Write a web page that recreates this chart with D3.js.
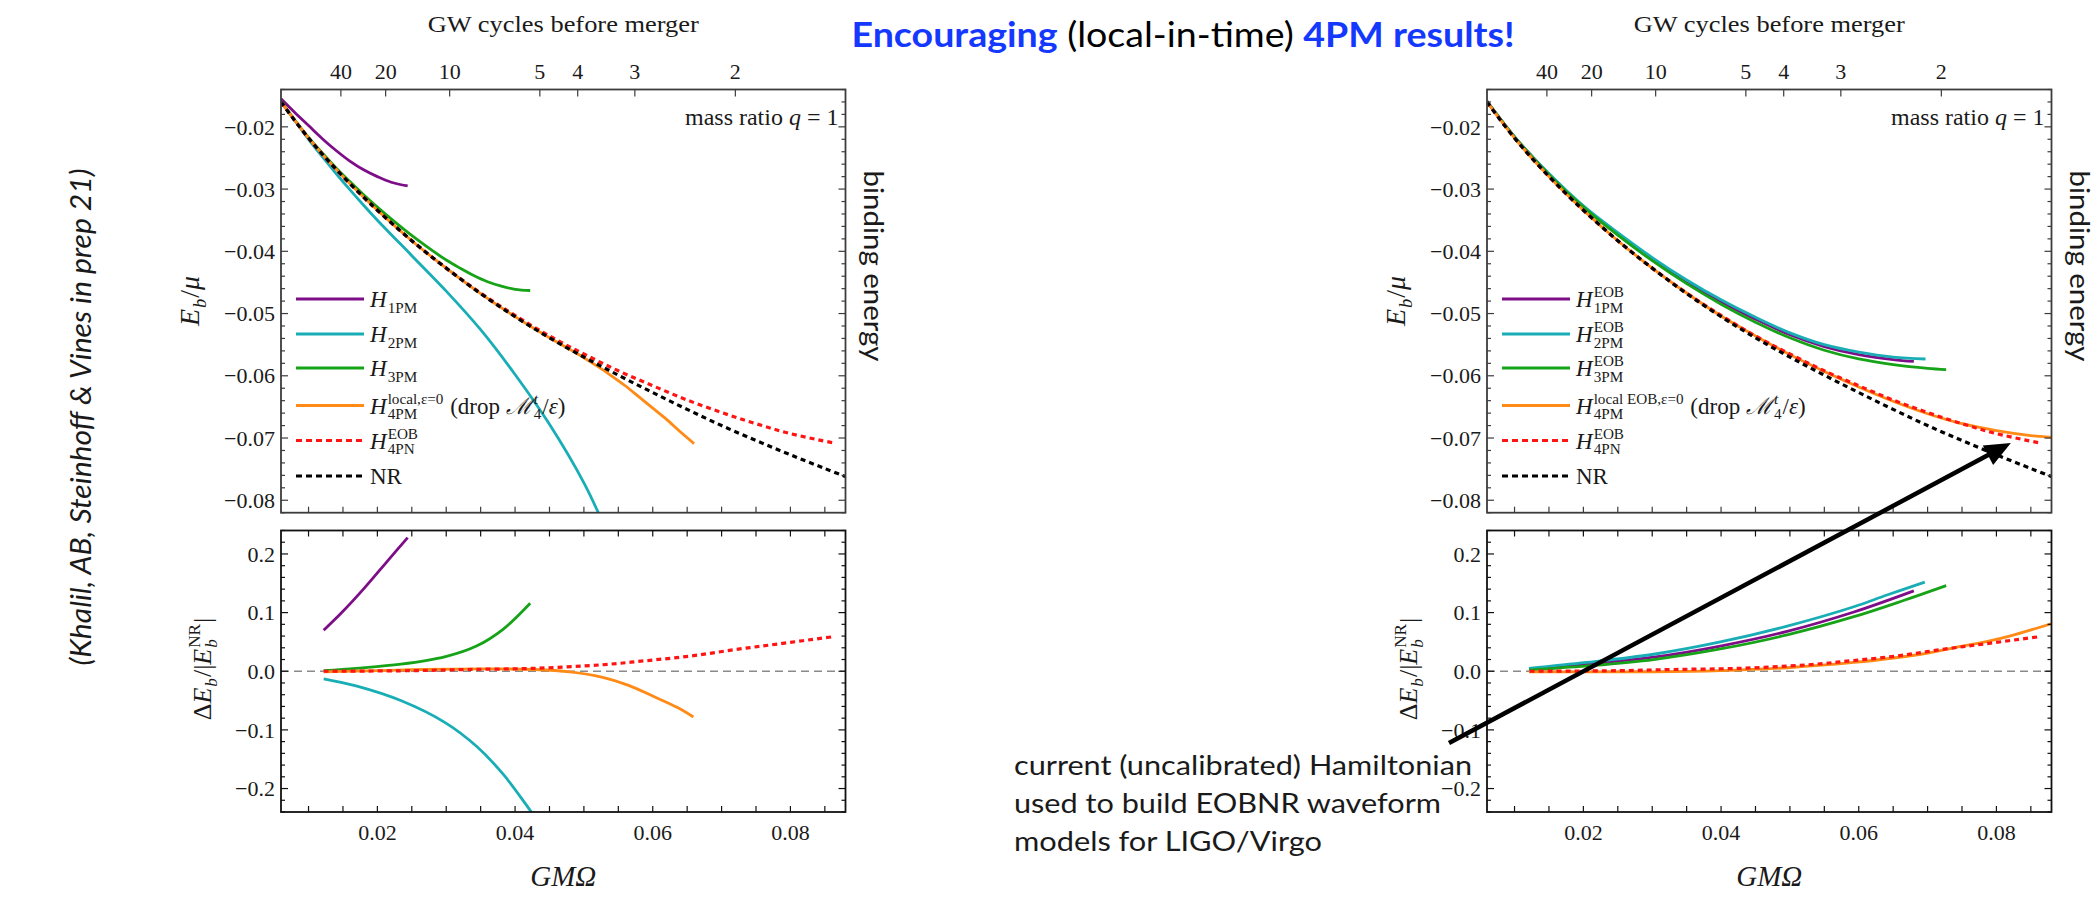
<!DOCTYPE html>
<html>
<head>
<meta charset="UTF-8">
<title>binding energy 4PM</title>
<script src="https://d3js.org/d3.v7.min.js" charset="utf-8"></script>
<style>
  body { margin: 0; background: #fff; }
  text { font-family: "Liberation Serif", "DejaVu Serif", serif; fill: #1a1a1a; white-space: pre; }
  .gill { font-family: Lato, "Open Sans", sans-serif; }
</style>
</head>
<body>
<svg class="chart"></svg>
<script>

var width = 2097, height = 915;
var xDomain = [0.006, 0.088];
var topDomain = [-0.0820, -0.0140];
var botDomain = [-0.24, 0.24];

// GW cycles axis on top
var cycleLabels = [40, 20, 10, 5, 4, 3, 2];
var cycleAt = [0.0147, 0.0212, 0.0305, 0.0436, 0.0491, 0.0574, 0.0720];
var xTickLabels = [0.02, 0.04, 0.06, 0.08];

// NR binding energy (both panels)
var nrX = [0.006,0.008,0.010,0.012,0.014,0.016,0.018,0.020,0.025,0.030,0.035,0.040,0.045,0.050,0.055,0.060,0.065,0.070,0.075,0.080,0.085,0.088];
var nrE = [-0.0160,-0.0190,-0.0218,-0.0244,-0.0268,-0.0291,-0.0313,-0.0334,-0.0383,-0.0427,-0.0468,-0.0505,-0.0539,-0.0570,-0.0599,-0.0627,-0.0654,-0.0680,-0.0704,-0.0727,-0.0749,-0.0762];

// left: PM hamiltonians
var h1pmX = [0.006,0.008,0.010,0.012,0.014,0.016,0.018,0.020,0.022,0.0244];
var h1pmE = [-0.0155,-0.0177,-0.0198,-0.0219,-0.0238,-0.0255,-0.0269,-0.0280,-0.0289,-0.0295];
var h2pmX = [0.006,0.008,0.010,0.012,0.014,0.016,0.018,0.020,0.025,0.030,0.035,0.040,0.045,0.050,0.0525];
var h2pmE = [-0.0160,-0.0190,-0.0220,-0.0248,-0.0275,-0.0301,-0.0326,-0.0350,-0.0407,-0.0464,-0.0526,-0.0598,-0.0678,-0.0772,-0.0830];
var h3pmX = [0.006,0.008,0.010,0.012,0.014,0.016,0.018,0.020,0.022,0.024,0.026,0.028,0.030,0.032,0.034,0.036,0.038,0.040,0.0422];
var h3pmE = [-0.0159,-0.0189,-0.0217,-0.0242,-0.0266,-0.0288,-0.0309,-0.0329,-0.0348,-0.0366,-0.0383,-0.0399,-0.0414,-0.0427,-0.0439,-0.0449,-0.0456,-0.0461,-0.0463];
var h4pmX = [0.006,0.010,0.015,0.020,0.025,0.030,0.035,0.040,0.045,0.048,0.050,0.052,0.054,0.056,0.058,0.060,0.062,0.064,0.066];
var h4pmE = [-0.0160,-0.0218,-0.0280,-0.0334,-0.0383,-0.0427,-0.0468,-0.0505,-0.0539,-0.0558,-0.0571,-0.0585,-0.0600,-0.0616,-0.0634,-0.0652,-0.0670,-0.0690,-0.0709];
var eob4pnX = [0.006,0.010,0.015,0.020,0.025,0.030,0.035,0.040,0.045,0.050,0.055,0.060,0.065,0.070,0.075,0.080,0.0863];
var eob4pnE = [-0.0160,-0.0218,-0.0280,-0.0334,-0.0383,-0.0427,-0.0467,-0.0503,-0.0536,-0.0565,-0.0592,-0.0616,-0.0639,-0.0659,-0.0677,-0.0693,-0.0708];

// left: relative differences to NR
var res1pmX = [0.0122,0.0149,0.0182,0.0214,0.0244];
var res1pmY = [0.070,0.101,0.143,0.187,0.228];
var res2pmX = [0.0122,0.0169,0.0234,0.0299,0.0344,0.0383,0.0426];
var res2pmY = [-0.013,-0.025,-0.050,-0.088,-0.128,-0.176,-0.244];
var res3pmX = [0.0122,0.0169,0.0234,0.0299,0.0344,0.0383,0.0422];
var res3pmY = [0.001,0.005,0.012,0.025,0.043,0.072,0.116];
var res4pmX = [0.0122,0.0201,0.0266,0.0363,0.0428,0.0480,0.0526,0.0565,0.0603,0.0636,0.0659];
var res4pmY = [-0.001,0.001,0.003,0.004,0.003,-0.001,-0.010,-0.024,-0.044,-0.062,-0.078];
var res4pnX = [0.0122,0.0250,0.0331,0.0428,0.0526,0.0590,0.0655,0.0720,0.0785,0.0863];
var res4pnY = [0.000,0.001,0.003,0.005,0.011,0.018,0.026,0.037,0.047,0.059];

// right: EOB hamiltonians
var eob1pmX = [0.006,0.010,0.015,0.020,0.025,0.030,0.035,0.040,0.045,0.050,0.055,0.060,0.065,0.068];
var eob1pmE = [-0.0159,-0.0216,-0.0276,-0.0328,-0.0372,-0.0412,-0.0449,-0.0481,-0.0509,-0.0534,-0.0553,-0.0566,-0.0574,-0.0577];
var eob2pmX = [0.006,0.010,0.015,0.020,0.025,0.030,0.035,0.040,0.045,0.050,0.055,0.060,0.065,0.0697];
var eob2pmE = [-0.0159,-0.0216,-0.0275,-0.0327,-0.0370,-0.0410,-0.0446,-0.0478,-0.0506,-0.0531,-0.0550,-0.0562,-0.0570,-0.0573];
var eob3pmX = [0.006,0.010,0.015,0.020,0.025,0.030,0.035,0.040,0.045,0.050,0.055,0.060,0.065,0.070,0.0727];
var eob3pmE = [-0.0159,-0.0216,-0.0277,-0.0329,-0.0374,-0.0415,-0.0452,-0.0485,-0.0514,-0.0539,-0.0559,-0.0573,-0.0582,-0.0588,-0.0590];
var eob4pmX = [0.006,0.010,0.015,0.020,0.025,0.030,0.035,0.040,0.045,0.050,0.055,0.060,0.065,0.070,0.075,0.080,0.085,0.088];
var eob4pmE = [-0.0160,-0.0218,-0.0280,-0.0334,-0.0383,-0.0427,-0.0467,-0.0504,-0.0536,-0.0566,-0.0593,-0.0618,-0.0641,-0.0661,-0.0677,-0.0688,-0.0696,-0.0699];

// right: relative differences to NR
var resEob1pmX = [0.0121,0.0205,0.0302,0.0399,0.0496,0.0593,0.0680];
var resEob1pmY = [0.003,0.012,0.024,0.043,0.068,0.101,0.137];
var resEob2pmX = [0.0121,0.0205,0.0302,0.0399,0.0496,0.0593,0.0641,0.0696];
var resEob2pmY = [0.005,0.015,0.029,0.050,0.077,0.110,0.130,0.152];
var resEob3pmX = [0.0121,0.0205,0.0302,0.0399,0.0496,0.0593,0.0666,0.0727];
var resEob3pmY = [0.002,0.009,0.020,0.038,0.062,0.093,0.121,0.146];
var resEob4pmX = [0.0121,0.0205,0.0302,0.0399,0.0496,0.0593,0.0690,0.0738,0.0787,0.0819,0.0880];
var resEob4pmY = [-0.001,-0.001,-0.001,0.001,0.006,0.015,0.029,0.040,0.051,0.060,0.081];

var colors = { p1: "#7d0e88", p2: "#19aeb6", p3: "#17a317", p4: "#ff8a16", pn: "#ff1414", nr: "#000" };

var chart = d3.select(".chart").attr("width", width).attr("height", height);
chart.append("rect").attr("width", width).attr("height", height).attr("fill", "#fff");

var panelW = 564.5, clipId = 0;

function zip(xs, ys) { return xs.map(function(v, i) { return [v, ys[i]]; }); }

function panel(left, top, bottom, yDomain) {
  var p = { left: left, right: left + panelW, top: top, bottom: bottom };
  p.x = d3.scaleLinear().domain(xDomain).range([left, left + panelW]);
  p.y = d3.scaleLinear().domain(yDomain).range([bottom, top]);
  var id = "clip" + (clipId++);
  chart.append("clipPath").attr("id", id).append("rect")
      .attr("x", left).attr("y", top).attr("width", panelW).attr("height", bottom - top);
  p.plot = chart.append("g").attr("clip-path", "url(#" + id + ")");
  return p;
}

function curve(p, xs, ys, color, dashed) {
  p.plot.append("path")
      .datum(zip(xs, ys))
      .attr("fill", "none")
      .attr("stroke", color)
      .attr("stroke-width", dashed ? 3.2 : 2.8)
      .attr("stroke-dasharray", dashed ? "5,4" : null)
      .attr("d", d3.line()
          .x(function(d) { return p.x(d[0]); })
          .y(function(d) { return p.y(d[1]); })
          .curve(d3.curveCatmullRom.alpha(0.5)));
}

// frame + ticks; minor step yStep, every majorEvery-th tick is labelled
function frame(p, color, yMin, yMax, yStep, majorEvery, fmt, xLabels) {
  var g = chart.append("g").attr("stroke", color).attr("stroke-width", 1.2);
  for (var i = Math.round(yMin / yStep); i <= Math.round(yMax / yStep); i++) {
    var v = i * yStep, yy = p.y(v), major = (i % majorEvery === 0), len = major ? 7 : 4;
    g.append("line").attr("x1", p.left).attr("x2", p.left + len).attr("y1", yy).attr("y2", yy);
    g.append("line").attr("x1", p.right).attr("x2", p.right - len).attr("y1", yy).attr("y2", yy);
    if (major) {
      chart.append("text").attr("x", p.left - 6).attr("y", yy).attr("dy", "0.35em")
          .attr("text-anchor", "end").attr("font-size", 22).attr("fill", "#222")
          .text(fmt(v));
    }
  }
  for (var k = 2; k <= 17; k++) {
    var xx = p.x(k * 0.005);
    g.append("line").attr("x1", xx).attr("x2", xx).attr("y1", p.bottom).attr("y2", p.bottom - 6);
    if (xLabels) g.append("line").attr("x1", xx).attr("x2", xx).attr("y1", p.top).attr("y2", p.top + 6);
  }
  if (xLabels) {
    xTickLabels.forEach(function(v) {
      chart.append("text").attr("x", p.x(v)).attr("y", 840).attr("text-anchor", "middle")
          .attr("font-size", 22).attr("fill", "#222").text(d3.format(".2f")(v));
    });
  }
  chart.append("rect").attr("x", p.left).attr("y", p.top).attr("width", panelW).attr("height", p.bottom - p.top)
      .attr("fill", "none").attr("stroke", color).attr("stroke-width", 1.8);
}

// sequential math text: {t, it} or stacked {sup, sub}
function mathText(parent, x, y, tokens, size) {
  var cx = x;
  tokens.forEach(function(tk) {
    if (tk.sup !== undefined || tk.sub !== undefined) {
      var w = 0;
      if (tk.sup) {
        var s = parent.append("text").attr("x", cx + 1).attr("y", y - size * 0.42)
            .attr("font-size", size * 0.66).attr("font-style", tk.supIt ? "italic" : null).text(tk.sup);
        w = Math.max(w, s.node().getComputedTextLength());
      }
      if (tk.sub) {
        var b = parent.append("text").attr("x", cx + 1).attr("y", y + size * 0.24)
            .attr("font-size", size * 0.66).attr("font-style", tk.subIt ? "italic" : null).text(tk.sub);
        w = Math.max(w, b.node().getComputedTextLength());
      }
      cx += w + 2;
    } else {
      var t = parent.append("text").attr("x", cx).attr("y", y).attr("font-size", tk.size || size)
          .attr("font-style", tk.it ? "italic" : null).text(tk.t);
      cx += t.node().getComputedTextLength();
    }
  });
  return cx - x;
}

function placedMath(cx, cy, rot, tokens, size, anchor) {
  var g = chart.append("g").attr("transform", "translate(" + cx + "," + cy + ") rotate(" + rot + ")");
  var inner = g.append("g");
  var w = mathText(inner, 0, 0, tokens, size);
  var shift = anchor === "end" ? -w : -w / 2;
  inner.attr("transform", "translate(" + shift + ",0)");
}

function legend(p, rows) {
  var rowY = [299, 334, 368, 405.5, 440.5, 476];
  rows.forEach(function(r, i) {
    chart.append("line").attr("x1", p.left + 15).attr("x2", p.left + 83)
        .attr("y1", rowY[i]).attr("y2", rowY[i]).attr("stroke", r.c)
        .attr("stroke-width", r.dash ? 3.2 : 2.8).attr("stroke-dasharray", r.dash ? "6,4" : null);
    mathText(chart.append("g"), p.left + 89, rowY[i] + 8, r.tokens, 23);
  });
}

function labels(p) {
  chart.append("text").attr("x", (p.left + p.right) / 2).attr("y", 32).attr("text-anchor", "middle")
      .attr("font-size", 24).attr("textLength", 271).attr("lengthAdjust", "spacingAndGlyphs")
      .text("GW cycles before merger");
  cycleAt.forEach(function(v, i) {
    var xx = p.x(v);
    chart.append("line").attr("x1", xx).attr("x2", xx).attr("y1", p.top).attr("y2", p.top + 7)
        .attr("stroke", "#3c3c3c").attr("stroke-width", 1.2);
    chart.append("text").attr("x", xx).attr("y", 79).attr("text-anchor", "middle")
        .attr("font-size", 22).attr("fill", "#222").text(cycleLabels[i]);
  });
  placedMath(p.right - 7, 125, 0, [{ t: "mass ratio " }, { t: "q", it: 1 }, { t: " = 1" }], 24, "end");
  placedMath(p.left - 82, 301, -90, [{ t: "E", it: 1 }, { sub: "b", subIt: 1 }, { t: "/" }, { t: "μ", it: 1 }], 28);
  placedMath(p.left - 70, 669, -90, [{ t: "Δ" }, { t: "E", it: 1 }, { sub: "b", subIt: 1 }, { t: "/|" },
      { t: "E", it: 1 }, { sup: "NR", sub: "b", subIt: 1 }, { t: "|" }], 26);
  placedMath((p.left + p.right) / 2, 886, 0, [{ t: "GMΩ", it: 1 }], 29);
  chart.append("text").attr("class", "gill").attr("font-size", 26)
      .attr("transform", "translate(" + (p.right + 18) + ",266) rotate(90)")
      .attr("text-anchor", "middle").attr("textLength", 191).attr("lengthAdjust", "spacingAndGlyphs")
      .attr("fill", "#000").text("binding energy");
}

var lTop = panel(281, 89.5, 512.7, topDomain);
var lBot = panel(281, 530.5, 812, botDomain);
var rTop = panel(1487, 89.5, 512.7, topDomain);
var rBot = panel(1487, 530.5, 812, botDomain);

[lBot, rBot].forEach(function(p) {
  p.plot.append("line").attr("x1", p.x(xDomain[0])).attr("x2", p.x(xDomain[1]))
      .attr("y1", p.y(0)).attr("y2", p.y(0))
      .attr("stroke", "#8a8a8a").attr("stroke-width", 1.3).attr("stroke-dasharray", "8,5");
});

// left top
curve(lTop, h1pmX, h1pmE, colors.p1);
curve(lTop, h2pmX, h2pmE, colors.p2);
curve(lTop, h3pmX, h3pmE, colors.p3);
curve(lTop, h4pmX, h4pmE, colors.p4);
curve(lTop, eob4pnX, eob4pnE, colors.pn, true);
curve(lTop, nrX, nrE, colors.nr, true);
// left bottom
curve(lBot, res1pmX, res1pmY, colors.p1);
curve(lBot, res2pmX, res2pmY, colors.p2);
curve(lBot, res3pmX, res3pmY, colors.p3);
curve(lBot, res4pmX, res4pmY, colors.p4);
curve(lBot, res4pnX, res4pnY, colors.pn, true);
// right top
curve(rTop, eob1pmX, eob1pmE, colors.p1);
curve(rTop, eob2pmX, eob2pmE, colors.p2);
curve(rTop, eob3pmX, eob3pmE, colors.p3);
curve(rTop, eob4pmX, eob4pmE, colors.p4);
curve(rTop, eob4pnX, eob4pnE, colors.pn, true);
curve(rTop, nrX, nrE, colors.nr, true);
// right bottom
curve(rBot, resEob1pmX, resEob1pmY, colors.p1);
curve(rBot, resEob2pmX, resEob2pmY, colors.p2);
curve(rBot, resEob3pmX, resEob3pmY, colors.p3);
curve(rBot, resEob4pmX, resEob4pmY, colors.p4);
curve(rBot, res4pnX, res4pnY, colors.pn, true);

[lTop, rTop].forEach(function(p) { frame(p, "#3c3c3c", -0.082, -0.014, 0.002, 5, d3.format(".2f"), false); });
[lBot, rBot].forEach(function(p) { frame(p, "#111", -0.24, 0.24, 0.02, 5, d3.format(".1f"), true); });

labels(lTop);
labels(rTop);

var H = { t: "H", it: 1 };
legend(lTop, [
  { c: colors.p1, tokens: [H, { sub: "1PM" }] },
  { c: colors.p2, tokens: [H, { sub: "2PM" }] },
  { c: colors.p3, tokens: [H, { sub: "3PM" }] },
  { c: colors.p4, tokens: [H, { sup: "local,ε=0", sub: "4PM" }, { t: " (drop " }, { t: "ℳ", it: 1 },
      { sup: "t", sub: "4", supIt: 1 }, { t: "/" }, { t: "ε", it: 1 }, { t: ")" }] },
  { c: colors.pn, dash: true, tokens: [H, { sup: "EOB", sub: "4PN" }] },
  { c: colors.nr, dash: true, tokens: [{ t: "NR" }] }
]);
legend(rTop, [
  { c: colors.p1, tokens: [H, { sup: "EOB", sub: "1PM" }] },
  { c: colors.p2, tokens: [H, { sup: "EOB", sub: "2PM" }] },
  { c: colors.p3, tokens: [H, { sup: "EOB", sub: "3PM" }] },
  { c: colors.p4, tokens: [H, { sup: "local EOB,ε=0", sub: "4PM" }, { t: " (drop " }, { t: "ℳ", it: 1 },
      { sup: "t", sub: "4", supIt: 1 }, { t: "/" }, { t: "ε", it: 1 }, { t: ")" }] },
  { c: colors.pn, dash: true, tokens: [H, { sup: "EOB", sub: "4PN" }] },
  { c: colors.nr, dash: true, tokens: [{ t: "NR" }] }
]);

// slide texts
var title = chart.append("text").attr("class", "gill").attr("x", 1183).attr("y", 47)
    .attr("text-anchor", "middle").attr("font-size", 35)
    .attr("textLength", 663).attr("lengthAdjust", "spacingAndGlyphs");
title.append("tspan").attr("font-weight", 700).attr("fill", "#1538ff").text("Encouraging");
title.append("tspan").attr("fill", "#000").text(" (local-in-time) ");
title.append("tspan").attr("font-weight", 700).attr("fill", "#1538ff").text("4PM results!");

chart.append("text").attr("class", "gill").attr("font-size", 28).attr("font-style", "italic")
    .attr("transform", "translate(91,417) rotate(-90)").attr("text-anchor", "middle")
    .attr("textLength", 497).attr("lengthAdjust", "spacingAndGlyphs").attr("fill", "#000")
    .text("(Khalil, AB, Steinhoff & Vines in prep 21)");

var noteLines = ["current (uncalibrated) Hamiltonian", "used to build EOBNR waveform", "models for LIGO/Virgo"];
var noteLengths = [458, 427, 308];
noteLines.forEach(function(s, i) {
  chart.append("text").attr("class", "gill").attr("x", 1014).attr("y", 775 + i * 38)
      .attr("font-size", 27).attr("fill", "#000")
      .attr("textLength", noteLengths[i]).attr("lengthAdjust", "spacingAndGlyphs").text(s);
});

// arrow pointing at the 4PN EOB curve
var arrowTip = [rTop.x(0.0821), rTop.y(-0.0708)], arrowStart = [1449, 743];
var dx = arrowTip[0] - arrowStart[0], dy = arrowTip[1] - arrowStart[1], L = Math.sqrt(dx * dx + dy * dy);
var ux = dx / L, uy = dy / L, headLen = 26, headW = 11;
var bx = arrowTip[0] - ux * headLen, by = arrowTip[1] - uy * headLen;
chart.append("line").attr("x1", arrowStart[0]).attr("y1", arrowStart[1]).attr("x2", bx + ux * 4).attr("y2", by + uy * 4)
    .attr("stroke", "#000").attr("stroke-width", 4.5);
chart.append("polygon").attr("fill", "#000").attr("points", [
  arrowTip, [bx - uy * headW, by + ux * headW], [bx + uy * headW, by - ux * headW]
].map(function(q) { return q.join(","); }).join(" "));

</script>
</body>
</html>
